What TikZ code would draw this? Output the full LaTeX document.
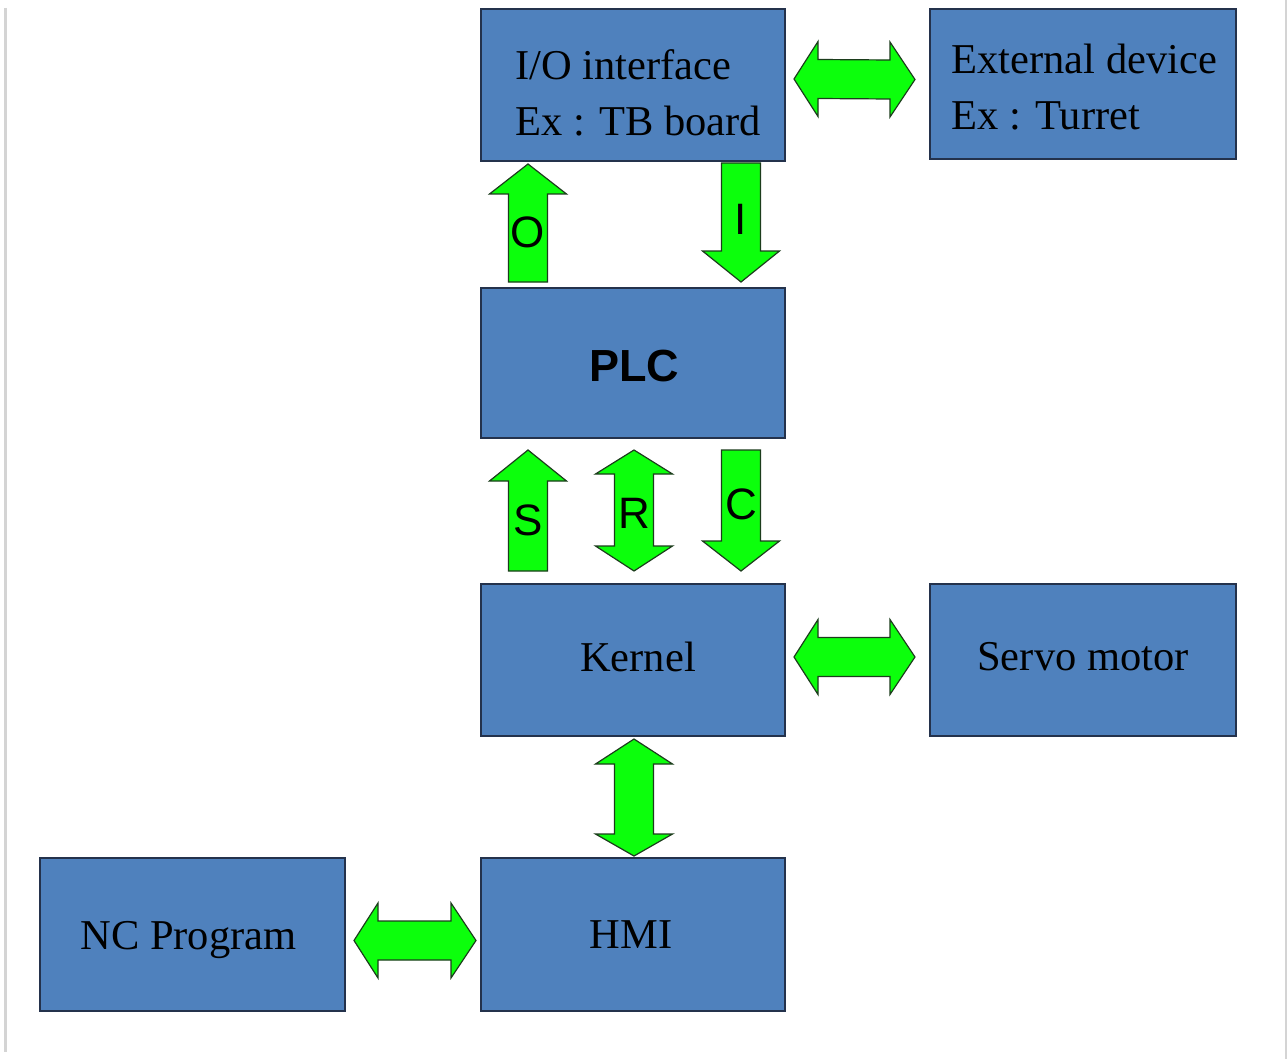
\documentclass[tikz,border=0pt]{standalone}
\usepackage{fontspec}
\setmainfont{Liberation Serif}
\setsansfont{Liberation Sans}
\usetikzlibrary{calc}

\definecolor{boxblue}{RGB}{79,129,189}
\definecolor{boxedge}{RGB}{36,50,76}
\definecolor{arrowgreen}{RGB}{12,255,12}
\definecolor{arrowedge}{RGB}{28,60,28}
\definecolor{sideline}{RGB}{212,212,212}

\tikzset{
  block/.style={draw=boxedge, line width=1pt, fill=boxblue, inner sep=0pt},
  txt/.style={inner sep=0pt, font=\fontsize{21.25}{26}\selectfont},
  tag/.style={inner sep=0pt, font=\sffamily\fontsize{22}{26}\selectfont},
  flow/.style={draw=arrowedge, line width=0.6pt, fill=arrowgreen, line join=miter},
}

% block arrows: shaft half-width 19.5, head half-width 38.5 (drawing units)
\newcommand\blockup[3]{% tail, tip, head length
  \draw[flow] ($(#1)+(-19.5,0)$) -- ($(#2)+(-19.5,#3)$) -- ($(#2)+(-38.5,#3)$) -- (#2)
    -- ($(#2)+(38.5,#3)$) -- ($(#2)+(19.5,#3)$) -- ($(#1)+(19.5,0)$) -- cycle;}
\newcommand\blockdown[3]{% tail, tip, head length
  \draw[flow] ($(#1)+(-19.5,0)$) -- ($(#2)+(-19.5,-#3)$) -- ($(#2)+(-38.5,-#3)$) -- (#2)
    -- ($(#2)+(38.5,-#3)$) -- ($(#2)+(19.5,-#3)$) -- ($(#1)+(19.5,0)$) -- cycle;}
\newcommand\blockvv[4]{% upper tip, lower tip, upper head, lower head
  \draw[flow] (#1) -- ($(#1)+(38.5,#3)$) -- ($(#1)+(19.5,#3)$) -- ($(#2)+(19.5,-#4)$)
    -- ($(#2)+(38.5,-#4)$) -- (#2) -- ($(#2)+(-38.5,-#4)$) -- ($(#2)+(-19.5,-#4)$)
    -- ($(#1)+(-19.5,#3)$) -- ($(#1)+(-38.5,#3)$) -- cycle;}
\newcommand\blockhh[4]{% left tip, right tip, left head, right head
  \draw[flow] (#1) -- ($(#1)+(#3,-37.5)$) -- ($(#1)+(#3,-19.5)$) -- ($(#2)+(-#4,-19.5)$)
    -- ($(#2)+(-#4,-37.5)$) -- (#2) -- ($(#2)+(-#4,37.5)$) -- ($(#2)+(-#4,19.5)$)
    -- ($(#1)+(#3,19.5)$) -- ($(#1)+(#3,37.5)$) -- cycle;}

\begin{document}
\begin{tikzpicture}[x=0.5pt, y=-0.5pt]
  \path[use as bounding box, fill=white] (0,0) rectangle (1288,1059);

  % thin side rules
  \draw[sideline, line width=1.5pt] (5,8) -- (5,1052);
  \draw[sideline, line width=1pt] (1286,0) -- (1286,1059);

  % blocks
  \node[block, minimum width=152pt, minimum height=76pt]   (io)     at (633,85)    {};
  \node[block, minimum width=153pt, minimum height=75pt]   (ext)    at (1083,84)   {};
  \node[block, minimum width=152pt, minimum height=75pt]   (plc)    at (633,363)   {};
  \node[block, minimum width=152pt, minimum height=76pt]   (kernel) at (633,660)   {};
  \node[block, minimum width=153pt, minimum height=76pt]   (servo)  at (1083,660)  {};
  \node[block, minimum width=152.5pt, minimum height=76.5pt] (nc)   at (192.5,934.5) {};
  \node[block, minimum width=152pt, minimum height=76.5pt] (hmi)    at (633,934.5) {};

  % block texts
  \node[txt, anchor=base west] (io-l1)  at (515,80)  {I/O interface};
  \node[txt, anchor=base west] (io-l2)  at (515,136) {Ex : TB board};
  \node[txt, anchor=base west] (ext-l1) at (951,74)  {External device};
  \node[txt, anchor=base west] (ext-l2) at (951,130) {Ex : Turret};
  \node[inner sep=0pt, anchor=base, font=\sffamily\bfseries\fontsize{22.5}{26}\selectfont]
        (plc-t) at (634,381) {PLC};
  \node[txt, anchor=base] (kernel-t) at (638,671)  {Kernel};
  \node[txt, anchor=base] (servo-t)  at (1083,670) {Servo motor};
  \node[txt, anchor=base] (nc-t)     at (188.5,949) {NC Program};
  \node[txt, anchor=base] (hmi-t)    at (631,948)  {HMI};

  % arrow end points
  \coordinate (ie-a) at ($(io.east)+(8,-6)$);
  \coordinate (ie-b) at ($(ext.west)+(-14,-4.5)$);
  \coordinate (ks-a) at ($(kernel.east)+(8,-3)$);
  \coordinate (ks-b) at ($(servo.west)+(-14,-3)$);
  \coordinate (nh-a) at ($(nc.east)+(8,6)$);
  \coordinate (nh-b) at ($(hmi.west)+(-4,6)$);
  \coordinate (kh-a) at ($(kernel.south)+(1,2)$);
  \coordinate (kh-b) at ($(hmi.north)+(1,-1)$);
  \coordinate (o-a)  at ($(plc.north)+(-105,-5)$);
  \coordinate (o-b)  at ($(io.south)+(-105,2)$);
  \coordinate (i-a)  at ($(io.south)+(108,1)$);
  \coordinate (i-b)  at ($(plc.north)+(108,-5)$);
  \coordinate (s-a)  at ($(kernel.north)+(-105,-12)$);
  \coordinate (s-b)  at ($(plc.south)+(-105,11)$);
  \coordinate (r-a)  at ($(plc.south)+(1,11)$);
  \coordinate (r-b)  at ($(kernel.north)+(1,-12)$);
  \coordinate (c-a)  at ($(plc.south)+(108,11)$);
  \coordinate (c-b)  at ($(kernel.north)+(108,-12)$);

  % block arrows
  \blockhh{ie-a}{ie-b}{24}{25}
  \blockhh{ks-a}{ks-b}{24}{25}
  \blockhh{nh-a}{nh-b}{24}{25}
  \blockvv{kh-a}{kh-b}{25}{22}
  \blockup{o-a}{o-b}{30}
  \blockdown{i-a}{i-b}{31}
  \blockup{s-a}{s-b}{31}
  \blockvv{r-a}{r-b}{24}{25}
  \blockdown{c-a}{c-b}{30}

  % arrow letters
  \node[tag] (o-t) at (528,232) {O};
  \node[tag] (i-t) at (741,219) {I};
  \node[tag] (s-t) at (528,520) {S};
  \node[tag] (r-t) at (634,513) {R};
  \node[tag] (c-t) at (741,504) {C};
\end{tikzpicture}
\end{document}
